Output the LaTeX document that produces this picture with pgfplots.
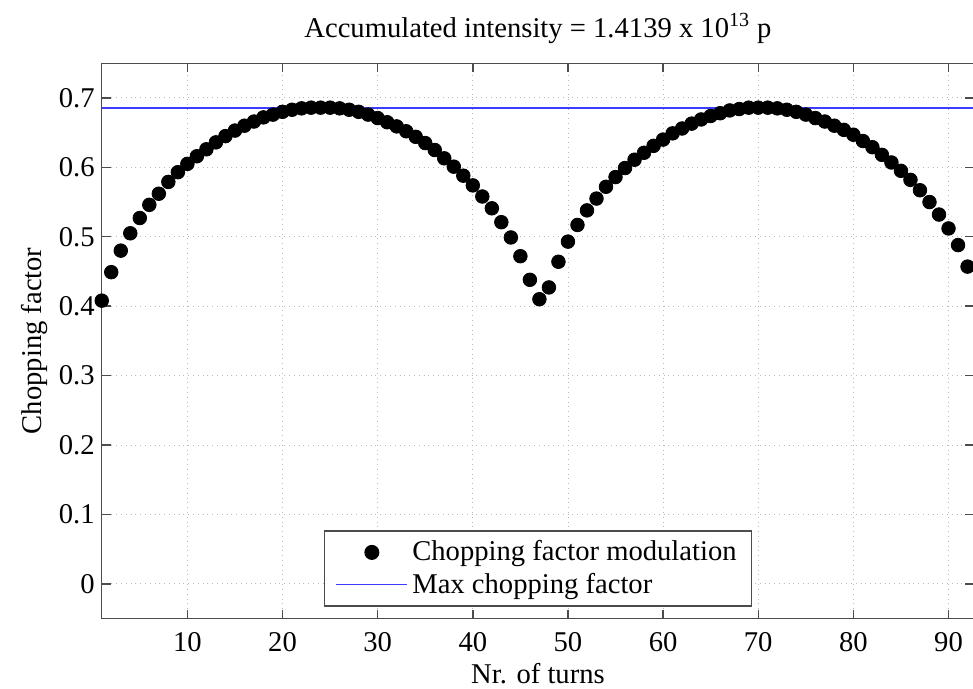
\documentclass[border=0pt]{standalone}
\usepackage{pgfplots}
\pgfplotsset{compat=1.18}
\usepackage{fontspec}
\setmainfont{Liberation Serif}
\usetikzlibrary{calc}
\definecolor{maxblue}{RGB}{60,60,255}
\pgfplotstableread{
x y
1 0.408
2 0.449
3 0.480
4 0.505
5 0.527
6 0.546
7 0.562
8 0.579
9 0.593
10 0.605
11 0.616
12 0.626
13 0.636
14 0.645
15 0.653
16 0.660
17 0.666
18 0.672
19 0.676
20 0.680
21 0.683
22 0.685
23 0.686
24 0.686
25 0.686
26 0.685
27 0.683
28 0.680
29 0.676
30 0.671
31 0.665
32 0.659
33 0.652
34 0.644
35 0.635
36 0.625
37 0.613
38 0.601
39 0.588
40 0.574
41 0.558
42 0.541
43 0.521
44 0.499
45 0.472
46 0.438
47 0.410
48 0.427
49 0.464
50 0.493
51 0.517
52 0.538
53 0.555
54 0.572
55 0.586
56 0.599
57 0.611
58 0.621
59 0.631
60 0.640
61 0.649
62 0.656
63 0.663
64 0.669
65 0.674
66 0.678
67 0.682
68 0.684
69 0.686
70 0.686
71 0.686
72 0.685
73 0.683
74 0.680
75 0.676
76 0.671
77 0.666
78 0.660
79 0.654
80 0.647
81 0.638
82 0.629
83 0.618
84 0.607
85 0.595
86 0.582
87 0.567
88 0.550
89 0.532
90 0.512
91 0.488
92 0.457
93 0.421
}\chop
\begin{document}
\begin{tikzpicture}
\begin{axis}[
  scale only axis, width=436pt, height=277.5pt,
  xmin=1, xmax=92.7, ymin=-0.05, ymax=0.75,
  xtick={10,20,30,40,50,60,70,80,90},
  ytick={0,0.1,0.2,0.3,0.4,0.5,0.6,0.7},
  yticklabels={0,0.1,0.2,0.3,0.4,0.5,0.6,0.7},
  /pgf/number format/assume math mode=true,
  tick align=inside, major tick length=4.5pt,
  grid=major, grid style={dotted, gray!55, line width=0.45pt},
  axis line style={black!70, line width=0.7pt},
  tick style={black!70, line width=0.7pt},
  tick label style={font=\fontsize{14.3}{17}\selectfont},
  xticklabel style={yshift=-3.5pt},
  label style={font=\fontsize{14.3}{17}\selectfont},
  title={Accumulated intensity = 1.4139 x 10\textsuperscript{13} p},
  title style={font=\fontsize{14.3}{17}\selectfont, at={(axis description cs:0.5,1.0414)}, anchor=center},
  xlabel={Nr. of turns},
  xlabel style={at={(axis description cs:0.5,-0.0991)}, anchor=center},
  ylabel={Chopping factor},
  ylabel style={at={(axis description cs:-0.0768,0.5)}, anchor=center},
  legend style={at={(axis description cs:0.5,0.021)}, anchor=south, draw=black!70, line width=0.7pt,
    font=\fontsize{14.3}{17}\selectfont, row sep=0.5pt, inner xsep=5.5pt, inner ysep=3pt},
  legend cell align=left,
  reverse legend,
  legend image code/.code={\draw[mark repeat=2,mark phase=2,#1] plot coordinates {(0cm,0cm) (0.625cm,0cm) (1.25cm,0cm)};},
]
\addplot[draw=maxblue, color=maxblue, line width=0.9pt] coordinates {(1,0.686) (92.7,0.686)};
\addlegendentry{Max chopping factor}
\addplot[only marks, mark=*, mark size=3.4pt, black] table[x=x, y=y] {\chop};
\addlegendentry{Chopping factor modulation}
\end{axis}
\pgfresetboundingbox
\path[use as bounding box] ($(current axis.south west)+(-50.85pt,-34.8pt)$) rectangle ($(current axis.north east)+(-0.6pt,31.6pt)$);
\end{tikzpicture}
\end{document}
